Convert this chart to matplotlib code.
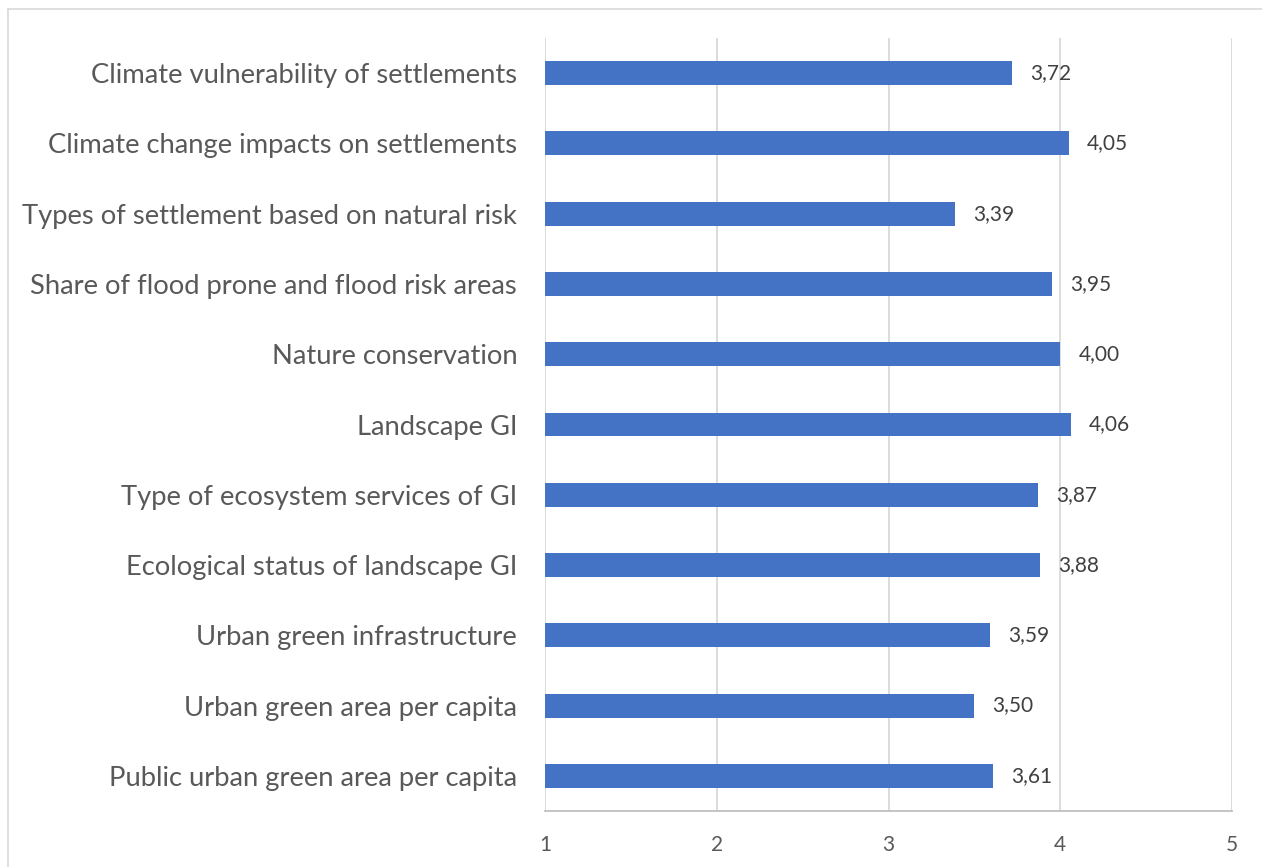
import matplotlib
matplotlib.use("Agg")
import matplotlib.pyplot as plt
from matplotlib.lines import Line2D

categories = [
    "Public urban green area per capita",
    "Urban green area per capita",
    "Urban green infrastructure",
    "Ecological status of landscape GI",
    "Type of ecosystem services of GI",
    "Landscape GI",
    "Nature conservation",
    "Share of flood prone and flood risk areas",
    "Types of settlement based on natural risk",
    "Climate change impacts on settlements",
    "Climate vulnerability of settlements",
]
values = [3.61, 3.50, 3.59, 3.88, 3.87, 4.06, 4.00, 3.95, 3.39, 4.05, 3.72]
x_ticks = [1, 2, 3, 4, 5]

plt.rcParams["font.family"] = ["Lato", "DejaVu Sans"]
text_color = "#595959"

W, H = 1262, 867
fig = plt.figure(figsize=(W / 100, H / 100), dpi=100)
ax = fig.add_axes([545 / W, 1 - 811 / H, (1232 - 545) / W, (811 - 38) / H])

pos = list(range(len(categories)))
ax.barh(pos, [v - 1 for v in values], left=1, height=0.34, color="#4472C4", zorder=3)

for p, v in zip(pos, values):
    ax.text(v + 0.105, p, f"{v:.2f}".replace(".", ","), va="center", ha="left",
            fontsize=15, color="#404040", zorder=4)

ax.set_xlim(1, 5)
ax.set_ylim(-0.5, len(categories) - 0.5)
ax.set_xticks(x_ticks)
ax.set_xticklabels([str(t) for t in x_ticks], fontsize=15, color=text_color)
ax.set_yticks(pos)
ax.set_yticklabels(categories, fontsize=19.7, color=text_color)
ax.tick_params(axis="both", length=0)
ax.tick_params(axis="x", pad=17)
ax.tick_params(axis="y", pad=20)

ax.grid(axis="x", color="#D9D9D9", linewidth=1.3, zorder=0)
for side in ("top", "right", "left"):
    ax.spines[side].set_visible(False)
ax.spines["bottom"].set_color("#BFBFBF")
ax.spines["bottom"].set_linewidth(1.3)

# chart frame
fig.add_artist(Line2D([8 / W, 1], [1 - 9 / H, 1 - 9 / H], transform=fig.transFigure,
                      color="#D9D9D9", linewidth=1.2))
fig.add_artist(Line2D([8 / W, 8 / W], [0, 1 - 9 / H], transform=fig.transFigure,
                      color="#D9D9D9", linewidth=1.2))

fig.savefig("out.png", dpi=100, facecolor="white")
